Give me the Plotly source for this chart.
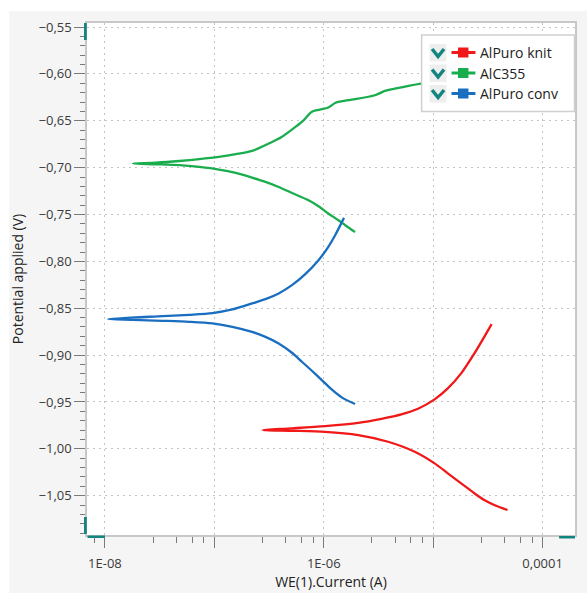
import plotly.graph_objects as go

# ---------------- data ----------------
series_names = ["AlPuro knit", "AlC355", "AlPuro conv"]

knit_current = [4.78e-5, 3.61e-5, 2.93e-5, 2.38e-5, 1.80e-5, 1.36e-5, 1.03e-5, 6.78e-6, 3.87e-6, 2.07e-6,
                1.03e-6, 5.08e-7,
                2.77e-7,
                5.12e-7, 1.03e-6, 2.07e-6, 3.37e-6, 5.12e-6, 7.26e-6, 1.03e-5, 1.36e-5, 1.80e-5, 2.38e-5,
                2.93e-5, 3.42e-5]
knit_potential = [-1.0652, -1.0599, -1.0546, -1.0474, -1.0368, -1.0261, -1.0155, -1.0031, -0.9924, -0.9853,
                  -0.9818, -0.9807,
                  -0.9800,
                  -0.9781, -0.9757, -0.9722, -0.9679, -0.9632, -0.9572, -0.9472, -0.9355, -0.9195, -0.8982,
                  -0.8805, -0.8670]

c355_current = [1.93e-6, 1.57e-6, 1.36e-6, 1.10e-6, 8.95e-7, 7.26e-7, 5.12e-7, 3.87e-7, 2.93e-7, 2.21e-7,
                1.57e-7, 1.10e-7, 7.26e-8, 4.78e-8, 2.93e-8,
                1.80e-8,
                2.93e-8, 4.78e-8, 7.26e-8, 1.10e-7, 1.57e-7, 2.21e-7, 3.14e-7, 4.12e-7, 5.50e-7, 6.53e-7,
                7.73e-7, 8.95e-7, 1.10e-6, 1.27e-6, 1.68e-6, 2.93e-6, 3.61e-6, 4.46e-6, 7.73e-6, 1.36e-5,
                2.07e-5]
c355_potential = [-0.7686, -0.7614, -0.7561, -0.7489, -0.7412, -0.7348, -0.7270, -0.7206, -0.7152, -0.7106,
                  -0.7056, -0.7020, -0.6993, -0.6974, -0.6964,
                  -0.6956,
                  -0.6946, -0.6929, -0.6910, -0.6886, -0.6857, -0.6822, -0.6743, -0.6673, -0.6566, -0.6495,
                  -0.6406, -0.6383, -0.6359, -0.6310, -0.6281, -0.6228, -0.6182, -0.6157, -0.6103, -0.6068,
                  -0.6036]

conv_current = [1.93e-6, 1.46e-6, 1.18e-6, 9.59e-7, 7.78e-7, 6.31e-7, 5.12e-7, 3.87e-7, 2.93e-7, 2.21e-7,
                1.46e-7, 9.6e-8, 5.89e-8, 3.37e-8, 1.80e-8,
                1.064e-8,
                3.37e-8, 5.89e-8, 9.6e-8, 1.46e-7, 2.21e-7, 2.93e-7, 3.87e-7, 5.12e-7, 6.77e-7, 8.95e-7,
                1.10e-6, 1.27e-6, 1.53e-6]
conv_potential = [-0.9522, -0.9451, -0.9366, -0.9266, -0.9167, -0.9071, -0.8975, -0.8875, -0.8805, -0.8752,
                  -0.8698, -0.8662, -0.8645, -0.8634, -0.8624,
                  -0.8616,
                  -0.8584, -0.8570, -0.8552, -0.8513, -0.8449, -0.8403, -0.8342, -0.8254, -0.8136, -0.7987,
                  -0.7845, -0.7721, -0.7536]

x_tick_values = [1e-8, 1e-7, 1e-6, 1e-5, 1e-4]
x_tick_labels = ["1E-08", "", "1E-06", "", "0,0001"]

# ---------------- styling ----------------
W, H = 587, 593
L, R, T, B = 87, 577, 23, 535
colors = ["#f01818", "#19ad4e", "#1a6ec0"]
teal = "#13857f"


def px(x):
    return (x - L) / (R - L)


def py(y):
    return (B - y) / (B - T)


fig = go.Figure()
for name, xs, ys, col in zip(series_names,
                             [knit_current, c355_current, conv_current],
                             [knit_potential, c355_potential, conv_potential],
                             colors):
    fig.add_trace(go.Scatter(
        x=xs, y=ys, name=name, mode="lines",
        line=dict(color=col, width=2.3, shape="spline", smoothing=0.8),
    ))

shapes = []
# white strips outside the grey panel
shapes.append(dict(type="rect", xref="paper", yref="paper", x0=px(-20), x1=px(9), y0=py(620), y1=py(-20),
                   fillcolor="white", line=dict(width=0), layer="below"))
shapes.append(dict(type="rect", xref="paper", yref="paper", x0=px(-20), x1=px(620), y0=py(11), y1=py(-20),
                   fillcolor="white", line=dict(width=0), layer="below"))
# legend box
shapes.append(dict(type="rect", xref="paper", yref="paper", x0=px(423), x1=px(576.5), y0=py(111.5), y1=py(35),
                   fillcolor="white", line=dict(color="#cfcfcf", width=1.5), layer="above"))
row_centers = [52.5, 73.0, 93.5]
for yc in row_centers:
    shapes.append(dict(type="rect", xref="paper", yref="paper", x0=px(431), x1=px(448), y0=py(yc + 9), y1=py(yc - 8.5),
                       fillcolor="#eeeeee", line=dict(width=0), layer="above"))
    path = "M {:.5f},{:.5f} L {:.5f},{:.5f} L {:.5f},{:.5f}".format(
        px(433.5), py(yc - 3.5), px(439.5), py(yc + 4), px(445.5), py(yc - 3.5))
    shapes.append(dict(type="path", xref="paper", yref="paper", path=path,
                       line=dict(color=teal, width=3.5), layer="above"))

# legend line + square symbols
for yc, col in zip(row_centers, colors):
    shapes.append(dict(type="line", xref="paper", yref="paper", x0=px(453), x1=px(477), y0=py(yc), y1=py(yc),
                       line=dict(color=col, width=3), layer="above"))
    shapes.append(dict(type="rect", xref="paper", yref="paper", x0=px(459.5), x1=px(470), y0=py(yc + 5), y1=py(yc - 5),
                       fillcolor=col, line=dict(width=0), layer="above"))

# teal scroll handles
shapes.append(dict(type="rect", xref="paper", yref="paper", x0=px(84), x1=px(86.8), y0=py(40), y1=py(23),
                   fillcolor=teal, line=dict(width=0), layer="above"))
shapes.append(dict(type="rect", xref="paper", yref="paper", x0=px(84), x1=px(86.8), y0=py(534), y1=py(517),
                   fillcolor=teal, line=dict(width=0), layer="above"))
shapes.append(dict(type="rect", xref="paper", yref="paper", x0=px(87.5), x1=px(105), y0=py(538), y1=py(535.5),
                   fillcolor=teal, line=dict(width=0), layer="above"))
shapes.append(dict(type="rect", xref="paper", yref="paper", x0=px(561), x1=px(577), y0=py(538.5), y1=py(536),
                   fillcolor=teal, line=dict(width=0), layer="above"))

annotations = []
for yc, name in zip(row_centers, series_names):
    annotations.append(dict(xref="paper", yref="paper", x=px(480), y=py(yc), xanchor="left", yanchor="middle",
                            text=name, showarrow=False,
                            font=dict(family="Open Sans", size=14, color="#222222")))

tick_font = dict(family="Open Sans", size=13, color="#3a3a3a")
fig.update_layout(
    width=W, height=H,
    margin=dict(l=L, r=W - R, t=T, b=H - B, pad=0),
    paper_bgcolor="#f5f5f5",
    plot_bgcolor="white",
    separators=",.",
    showlegend=False,
    shapes=shapes,
    annotations=annotations,
    xaxis=dict(
        type="log",
        range=[-8.164, -3.704],
        tickvals=x_tick_values, ticktext=x_tick_labels,
        ticks="outside", ticklen=11, tickwidth=1.3, tickcolor="#7a7a7a",
        tickfont=tick_font, ticklabelstandoff=5,
        showgrid=True, gridcolor="#c4c4c4", gridwidth=1, griddash="2px,4px",
        showline=True, linecolor="#c8c8c8", linewidth=1.5, mirror=True,
        minor=dict(ticks="outside", ticklen=6, tickwidth=1.3, tickcolor="#7a7a7a", showgrid=False,
                   tickvals=[m * 10 ** e for e in range(-9, -3) for m in (2.75, 4.5, 6.25, 8.0)]),
        title=dict(text="WE(1).Current (A)", font=dict(family="Open Sans", size=14, color="#222222"),
                   standoff=0),
        zeroline=False,
    ),
    yaxis=dict(
        range=[-1.0919, -0.5457],
        tick0=-0.55, dtick=0.05, tickformat=".2f",
        ticks="outside", ticklen=11, tickwidth=1.3, tickcolor="#7a7a7a",
        tickfont=tick_font,
        showgrid=True, gridcolor="#c4c4c4", gridwidth=1, griddash="2px,4px",
        showline=True, linecolor="#c8c8c8", linewidth=1.5, mirror=True,
        minor=dict(ticks="outside", ticklen=5.5, tickwidth=1.3, tickcolor="#7a7a7a", dtick=0.01, showgrid=False),
        title=dict(text="Potential applied (V)", font=dict(family="Open Sans", size=14, color="#222222"),
                   standoff=12),
        zeroline=False,
    ),
)

fig.write_html("out.html")
